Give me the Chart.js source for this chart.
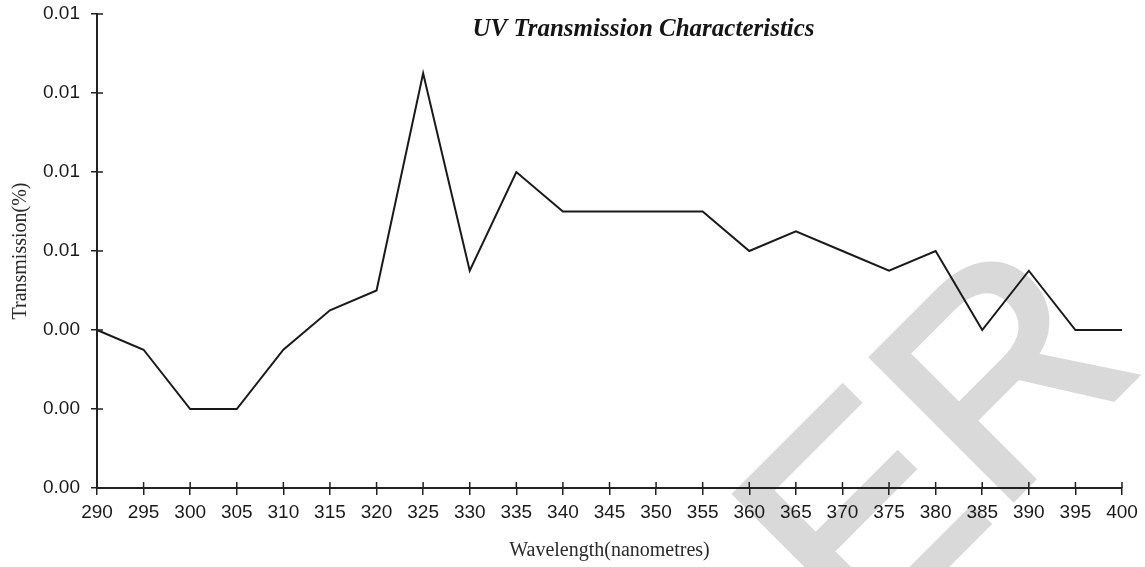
<!DOCTYPE html>
<html>
<head>
<meta charset="utf-8">
<script src="https://cdn.jsdelivr.net/npm/chart.js@4/dist/chart.umd.min.js"></script>
<style>
  html, body { margin: 0; padding: 0; background: #ffffff; }
  #wrap { width: 1145px; height: 567px; }
</style>
</head>
<body>
<div id="wrap"><canvas id="c" width="1145" height="567"></canvas></div>
<script>
const chartTitle = 'UV Transmission Characteristics';
const xTitle = 'Wavelength(nanometres)';
const yTitle = 'Transmission(%)';
const wavelengths = ['290','295','300','305','310','315','320','325','330','335','340','345','350','355','360','365','370','375','380','385','390','395','400'];
const transmission = [0.004,0.0035,0.002,0.002,0.0035,0.0045,0.005,0.0105,0.0055,0.008,0.007,0.007,0.007,0.007,0.006,0.0065,0.006,0.0055,0.006,0.004,0.0055,0.004,0.004];
const yMin = 0, yMax = 0.012, yStep = 0.002;
const watermarkText = 'ER';

const titlePlugin = {
  id: 'customTitle',
  afterDraw(chart) {
    const ctx = chart.ctx;
    ctx.save();
    ctx.font = 'italic bold 25px "Liberation Serif"';
    ctx.fillStyle = '#151515';
    ctx.textAlign = 'center';
    ctx.textBaseline = 'middle';
    const a = chart.chartArea;
    ctx.fillText(chartTitle, (a.left + a.right) / 2 + 34, a.top + 16);
    ctx.restore();
  }
};

const watermarkPlugin = {
  id: 'watermark',
  beforeDraw(chart) {
    const ctx = chart.ctx;
    ctx.save();
    ctx.fillStyle = '#d9d9d9';
    ctx.strokeStyle = '#d9d9d9';
    ctx.lineWidth = 6;
    ctx.lineJoin = 'miter';
    ctx.font = '290px "Liberation Sans"';
    ctx.textAlign = 'left';
    ctx.textBaseline = 'alphabetic';
    ctx.translate(860, 652);
    ctx.rotate(-Math.PI / 4);
    ctx.fillText(watermarkText, 0, 0);
    ctx.strokeText(watermarkText, 0, 0);
    ctx.restore();
  }
};

const innerTicks = {
  id: 'innerTicks',
  afterDraw(chart) {
    const ctx = chart.ctx;
    const a = chart.chartArea;
    ctx.save();
    ctx.strokeStyle = '#222';
    ctx.lineWidth = 1.5;
    ctx.beginPath();
    const xs = chart.scales.x;
    xs.ticks.forEach((t, i) => {
      const px = xs.getPixelForTick(i);
      ctx.moveTo(px, a.bottom);
      ctx.lineTo(px, a.bottom - 6);
    });
    const ys = chart.scales.y;
    ys.ticks.forEach((t, i) => {
      const py = ys.getPixelForTick(i);
      ctx.moveTo(a.left, py);
      ctx.lineTo(a.left + 6, py);
    });
    ctx.stroke();
    ctx.restore();
  }
};

new Chart(document.getElementById('c'), {
  type: 'line',
  data: {
    labels: wavelengths,
    datasets: [{
      data: transmission,
      borderColor: '#1a1a1a',
      borderWidth: 2,
      pointRadius: 0,
      tension: 0,
      fill: false
    }]
  },
  options: {
    responsive: false,
    animation: false,
    devicePixelRatio: 1,
    layout: { padding: { top: 14, right: 23, bottom: 0, left: 0 } },
    plugins: { legend: { display: false }, title: { display: false }, tooltip: { enabled: false } },
    scales: {
      x: {
        type: 'category',
        offset: false,
        grid: { display: true, drawOnChartArea: false, drawTicks: true, tickLength: 7, color: '#222', lineWidth: 1.5 },
        border: { display: true, color: '#222', width: 2 },
        ticks: { autoSkip: false, maxRotation: 0, minRotation: 0, padding: 6, color: '#1a1a1a', font: { family: 'Liberation Sans', size: 19 } },
        title: { display: true, text: xTitle, color: '#2a2a2a', font: { family: 'Liberation Serif', size: 20 }, padding: { top: 0, bottom: 4 } },
        afterFit(s) { s.height = 79; s.paddingLeft = 0; s.paddingRight = 0; }
      },
      y: {
        min: yMin, max: yMax,
        grid: { display: true, drawOnChartArea: false, drawTicks: true, tickLength: 6, color: '#222', lineWidth: 1.5 },
        border: { display: true, color: '#222', width: 2 },
        ticks: { stepSize: yStep, padding: 11, color: '#1a1a1a', font: { family: 'Liberation Sans', size: 19 },
          callback: v => Number(v).toFixed(2) },
        title: { display: true, text: yTitle, color: '#2a2a2a', font: { family: 'Liberation Serif', size: 20 }, padding: { top: 9, bottom: 0 } },
        afterFit(s) { s.width = 97; s.paddingTop = 0; s.paddingBottom = 0; }
      }
    }
  },
  plugins: [watermarkPlugin, titlePlugin, innerTicks]
});
</script>
</body>
</html>
